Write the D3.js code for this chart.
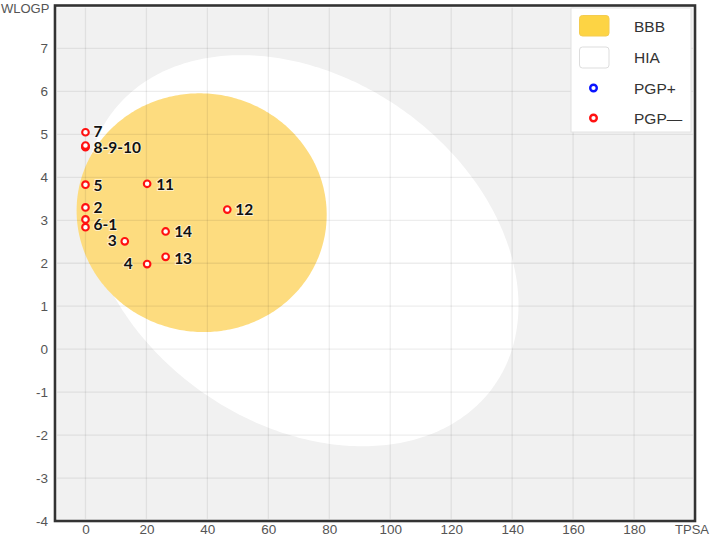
<!DOCTYPE html>
<html>
<head>
<meta charset="utf-8">
<script src="https://cdn.jsdelivr.net/npm/d3@7"></script>
<style>
  html, body { margin: 0; padding: 0; background: #ffffff; overflow: hidden; }
  svg { display: block; }
</style>
</head>
<body>
<svg id="chart" width="710" height="537"></svg>
<script>
// ---- data ----
const compoundIds = ["1", "2", "3", "4", "5", "6", "7", "8", "9", "10", "11", "12", "13", "14"];
const tpsaValues  = [0, 0, 12.89, 20.23, 0, 0, 0, 0, 0, 0, 20.23, 46.53, 26.30, 26.30];
const wlogpValues = [2.84, 3.30, 2.51, 1.98, 3.83, 3.02, 5.05, 4.70, 4.72, 4.74, 3.85, 3.25, 2.15, 2.74];
const pgpClass    = ["PGP-", "PGP-", "PGP-", "PGP-", "PGP-", "PGP-", "PGP-", "PGP-", "PGP-", "PGP-", "PGP-", "PGP-", "PGP-", "PGP-"];

const labelTexts  = ["7", "8-9-10", "5", "11", "2", "6-1", "12", "14", "3", "13", "4"];
const labelTpsa   = [0, 0, 0, 20.23, 0, 0, 46.53, 26.30, 12.89, 26.30, 20.23];
const labelWlogp  = [5.05, 4.72, 3.83, 3.85, 3.30, 2.84, 3.25, 2.74, 2.51, 2.15, 1.98];

const xTicks = [0, 20, 40, 60, 80, 100, 120, 140, 160, 180];
const yTicks = [-4, -3, -2, -1, 0, 1, 2, 3, 4, 5, 6, 7];
const xDomain = [-10, 200];
const yDomain = [-4, 8];

// BOILED-Egg ellipses (centre TPSA, centre WLOGP, width, height, angle in degrees)
const hiaEllipse = [71.051, 2.292, 142.081, 8.740, -1.031325];
const bbbEllipse = [38.117, 3.177, 82.061, 5.557, -0.066989];

const legendLabels = ["BBB", "HIA", "PGP+", "PGP\u2014"];

// ---- layout / style (not data) ----
const labelStyle = {   // dx, dy (px) and anchor for each label
  "7": [8, 5, "start"], "8-9-10": [8, 7, "start"], "5": [8, 6.5, "start"],
  "11": [9, 6.5, "start"], "2": [8, 5.5, "start"], "6-1": [8, 2.5, "start"],
  "12": [8, 5.5, "start"], "14": [8.5, 6, "start"], "3": [-8, 5, "end"],
  "13": [8.5, 7, "start"], "4": [-14.5, 5, "end"]
};

const svg = d3.select("#chart");
const x = d3.scaleLinear().domain(xDomain).range([55, 695]);
const y = d3.scaleLinear().domain(yDomain).range([521, 5.5]);

// clip
svg.append("defs").append("clipPath").attr("id", "plotclip")
  .append("rect").attr("x", 55).attr("y", 5.5).attr("width", 640).attr("height", 515.5);

// background
svg.append("rect").attr("x", 55).attr("y", 5.5).attr("width", 640).attr("height", 515.5)
  .attr("fill", "#f1f1f1");

function ellipsePath(e) {
  const [cx, cy, w, h, angDeg] = e;
  const a = w / 2, b = h / 2, th = angDeg * Math.PI / 180;
  const pts = d3.range(0, 361, 1).map(t => {
    const r = t * Math.PI / 180;
    const ex = a * Math.cos(r), ey = b * Math.sin(r);
    return [x(cx + ex * Math.cos(th) - ey * Math.sin(th)),
            y(cy + ex * Math.sin(th) + ey * Math.cos(th))];
  });
  return d3.line()(pts) + "Z";
}

const plot = svg.append("g").attr("clip-path", "url(#plotclip)");
plot.append("path").attr("d", ellipsePath(hiaEllipse)).attr("fill", "#ffffff");
plot.append("path").attr("d", ellipsePath(bbbEllipse)).attr("fill", "#fddc7f");

// grid (on top, translucent)
plot.selectAll("line.vg").data(xTicks.concat([200])).enter().append("line")
  .attr("x1", d => x(d)).attr("x2", d => x(d)).attr("y1", 5).attr("y2", 521)
  .attr("stroke", "rgba(0,0,0,0.07)").attr("stroke-width", 1.3);
plot.selectAll("line.hg").data(yTicks.filter(d => d > -4)).enter().append("line")
  .attr("x1", 55).attr("x2", 695).attr("y1", d => y(d)).attr("y2", d => y(d))
  .attr("stroke", "rgba(0,0,0,0.07)").attr("stroke-width", 1.3);

// frame
svg.append("rect").attr("x", 56.5).attr("y", 7).attr("width", 637).attr("height", 512.5)
  .attr("fill", "none").attr("stroke", "#ffffff").attr("stroke-width", 1.2);
svg.append("rect").attr("x", 55).attr("y", 5.5).attr("width", 640).attr("height", 515.5)
  .attr("fill", "none").attr("stroke", "#333333").attr("stroke-width", 2.6);

// axes
const tickFont = "'Liberation Sans', Arial, sans-serif";
const xAxis = svg.append("g").attr("transform", "translate(0,521)")
  .call(d3.axisBottom(x).tickValues(xTicks).tickSize(0).tickPadding(3).tickFormat(d => String(d)));
const yAxis = svg.append("g").attr("transform", "translate(55,0)")
  .call(d3.axisLeft(y).tickValues(yTicks).tickSize(0).tickPadding(7).tickFormat(d => String(d)));
[xAxis, yAxis].forEach(g => {
  g.select(".domain").remove();
  g.selectAll("text").attr("fill", "#555").style("font-size", "13.5px").style("font-family", tickFont);
});

svg.append("text").attr("x", 1).attr("y", 13).text("WLOGP")
  .attr("fill", "#555").style("font-size", "13px").style("font-family", tickFont);
svg.append("text").attr("x", 709).attr("y", 533.5).attr("text-anchor", "end").text("TPSA")
  .attr("fill", "#555").style("font-size", "13px").style("font-family", tickFont);

// points
const pts = compoundIds.map((id, i) => ({ id, t: tpsaValues[i], w: wlogpValues[i], c: pgpClass[i] }));
svg.append("g").selectAll("circle").data(pts).enter().append("circle")
  .attr("cx", d => x(d.t)).attr("cy", d => y(d.w)).attr("r", 3.3)
  .attr("fill", "#ffffff")
  .attr("stroke", d => d.c === "PGP+" ? "#0a14ff" : "#ff1111")
  .attr("stroke-width", 2.1);

// labels
const labels = labelTexts.map((t, i) => ({ t, px: labelTpsa[i], py: labelWlogp[i] }));
svg.append("g").selectAll("text").data(labels).enter().append("text")
  .attr("x", d => x(d.px) + labelStyle[d.t][0])
  .attr("y", d => y(d.py) + labelStyle[d.t][1])
  .attr("text-anchor", d => labelStyle[d.t][2])
  .text(d => d.t)
  .attr("fill", "#111")
  .attr("stroke", "rgba(255,255,255,0.6)").attr("stroke-width", 2)
  .attr("paint-order", "stroke")
  .style("font-family", "Lato, 'Open Sans', sans-serif")
  .style("font-weight", "bold")
  .style("font-size", "15.5px");

// legend
const lg = svg.append("g");
lg.append("rect").attr("x", 571).attr("y", 8).attr("width", 120).attr("height", 124)
  .attr("fill", "#ffffff").attr("stroke", "#e2e2e2").attr("stroke-width", 1);
const legY = [26, 57, 88, 118];
lg.append("rect").attr("x", 579.5).attr("y", 15.5).attr("width", 29.5).attr("height", 20.5)
  .attr("rx", 3).attr("fill", "#fdd444").attr("stroke", "#f4cc50").attr("stroke-width", 1);
lg.append("rect").attr("x", 579.5).attr("y", 47).attr("width", 29.5).attr("height", 21)
  .attr("rx", 3).attr("fill", "#ffffff").attr("stroke", "#dddddd").attr("stroke-width", 1);
lg.append("circle").attr("cx", 593.5).attr("cy", legY[2]).attr("r", 3.3)
  .attr("fill", "#fff").attr("stroke", "#0a14ff").attr("stroke-width", 2.4);
lg.append("circle").attr("cx", 593.5).attr("cy", legY[3]).attr("r", 3.3)
  .attr("fill", "#fff").attr("stroke", "#ff1111").attr("stroke-width", 2.4);
lg.selectAll("text.leg").data(legendLabels).enter().append("text")
  .attr("x", 634).attr("y", (d, i) => legY[i] + 5.5)
  .text(d => d)
  .attr("fill", "#333")
  .style("font-family", tickFont)
  .style("font-size", "15.5px");
</script>
</body>
</html>
